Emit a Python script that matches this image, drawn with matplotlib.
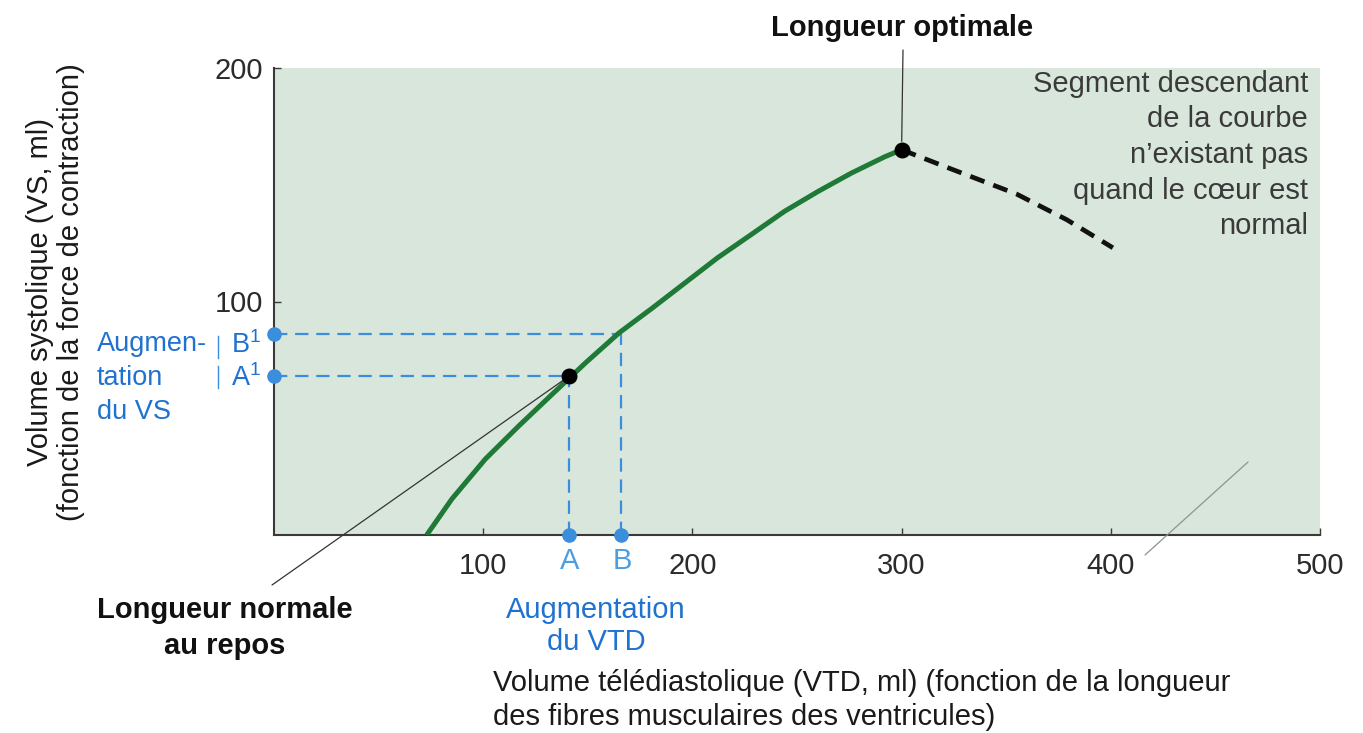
import matplotlib.pyplot as plt

plt.rcParams['font.family'] = ['Liberation Sans', 'DejaVu Sans']
plt.rcParams['mathtext.fontset'] = 'custom'
plt.rcParams['mathtext.rm'] = 'Liberation Sans'

# Courbe de Frank-Starling
vtd = [73, 85, 101, 117, 133, 149, 165, 181, 196.5, 212, 228, 244, 260, 276, 292, 300]
vs = [0, 15.4, 32.5, 46.7, 60.3, 73.8, 86.6, 97.3, 108, 118.7, 128.6, 138.6, 147.1, 155, 162, 165]
# segment descendant (pointillé)
vtd_desc = [300, 323, 355, 379, 401]
vs_desc = [165, 157, 146, 135, 123]

# points A et B
vtd_A, vs_A = 141, 68
vtd_B, vs_B = 166, 86
vtd_opt, vs_opt = 300, 165

x_ticks = [100, 200, 300, 400, 500]
y_ticks = [100, 200]

W, H = 1363, 733
FS = 21


def fpos(px, py):
    # pixel (haut-gauche) -> fraction de figure
    return px / W, 1 - py / H


fig = plt.figure(figsize=(W / 100, H / 100), dpi=100)
ax = fig.add_axes([274 / W, 1 - 535 / H, (1320 - 274) / W, (535 - 68) / H])
ax.set_facecolor('#d9e6db')
ax.set_xlim(0, 500)
ax.set_ylim(0, 200)
for s in ['top', 'right']:
    ax.spines[s].set_visible(False)
for s in ['left', 'bottom']:
    ax.spines[s].set_color('#3a3a3a')
    ax.spines[s].set_linewidth(1.5)

ax.set_xticks(x_ticks)
ax.set_yticks(y_ticks)
ax.tick_params(direction='in', length=5, width=1, colors='#3a3a3a',
               labelsize=FS, labelcolor='#2b2b2b')
ax.tick_params(axis='x', pad=12)
ax.tick_params(axis='y', pad=8)

blue = '#3b8edb'
blue_txt = '#1f72cf'

# lignes de repère bleues
ax.plot([0, vtd_A], [vs_A, vs_A], color=blue, lw=1.6, dashes=(6, 3.5), clip_on=False)
ax.plot([0, vtd_B], [vs_B, vs_B], color=blue, lw=1.6, dashes=(6, 3.5), clip_on=False)
ax.plot([vtd_A, vtd_A], [0, vs_A], color=blue, lw=1.6, dashes=(6, 3.5), clip_on=False)
ax.plot([vtd_B, vtd_B], [0, vs_B], color=blue, lw=1.6, dashes=(6, 3.5), clip_on=False)
ax.scatter([vtd_A, vtd_B, 0, 0], [0, 0, vs_A, vs_B], s=90, color=blue,
           zorder=5, clip_on=False)

# courbe
ax.plot(vtd, vs, color='#1e7a36', lw=3.6, solid_capstyle='butt',
        solid_joinstyle='round', zorder=3)
ax.plot(vtd_desc, vs_desc, color='#111111', lw=3.4, dashes=(3.2, 2), zorder=3)
ax.scatter([vtd_A, vtd_opt], [vs_A, vs_opt], s=110, color='black', zorder=6)

# annotations
ax.annotate('', xy=(vtd_A, vs_A), xytext=fpos(272, 585), textcoords='figure fraction',
            arrowprops=dict(arrowstyle='-', color='#333333', lw=0.9,
                            shrinkA=0, shrinkB=4))
ax.annotate('', xy=(vtd_opt, vs_opt), xytext=fpos(903, 50), textcoords='figure fraction',
            arrowprops=dict(arrowstyle='-', color='#333333', lw=0.9,
                            shrinkA=0, shrinkB=6))
ax.annotate('', xy=fpos(1248, 462), xytext=fpos(1145, 555),
            xycoords='figure fraction', textcoords='figure fraction',
            arrowprops=dict(arrowstyle='-', color='#8a9590', lw=0.9,
                            shrinkA=0, shrinkB=0))

fig.text(*fpos(902, 28), 'Longueur optimale', ha='center', va='center',
         fontsize=FS, fontweight='bold', color='#111111')
fig.text(*fpos(225, 628), 'Longueur normale\nau repos', ha='center', va='center',
         fontsize=FS, fontweight='bold', color='#111111', linespacing=1.33)
fig.text(*fpos(1308, 155), "Segment descendant\nde la courbe\nn’existant pas\n"
         "quand le cœur est\nnormal", ha='right', va='center', fontsize=FS,
         color='#3a3a3a', linespacing=1.35)

# axe y
fig.text(*fpos(40, 292), 'Volume systolique (VS, ml)', rotation=90,
         ha='center', va='center', fontsize=FS, color='#1a1a1a')
fig.text(*fpos(71, 292), '(fonction de la force de contraction)', rotation=90,
         ha='center', va='center', fontsize=FS, color='#1a1a1a')

# axe x
fig.text(*fpos(493, 700), 'Volume télédiastolique (VTD, ml) (fonction de la longueur\n'
         'des fibres musculaires des ventricules)', ha='left', va='center',
         fontsize=FS, color='#1a1a1a', linespacing=1.23)

# repères bleus
fig.text(*fpos(570, 561), 'A', ha='center', va='center', fontsize=FS, color='#4d9de3')
fig.text(*fpos(622, 561), 'B', ha='center', va='center', fontsize=FS, color='#4d9de3')
fig.text(*fpos(596, 626), 'Augmentation\ndu VTD', ha='center', va='center',
         fontsize=FS, color=blue_txt, linespacing=1.2)
fig.text(*fpos(97, 378), 'Augmen-\ntation\ndu VS', ha='left', va='center',
         fontsize=19.5, color=blue_txt, linespacing=1.4)
fig.text(*fpos(231, 345), 'B$^1$', ha='left', va='center', fontsize=19.5, color=blue_txt)
fig.text(*fpos(231, 378), 'A$^1$', ha='left', va='center', fontsize=19.5, color=blue_txt)
fig.add_artist(plt.Line2D([218 / W, 218 / W], [1 - 336 / H, 1 - 358 / H],
                          color=blue, lw=1))
fig.add_artist(plt.Line2D([218 / W, 218 / W], [1 - 366 / H, 1 - 388 / H],
                          color=blue, lw=1))

fig.savefig('out.png', dpi=100)
